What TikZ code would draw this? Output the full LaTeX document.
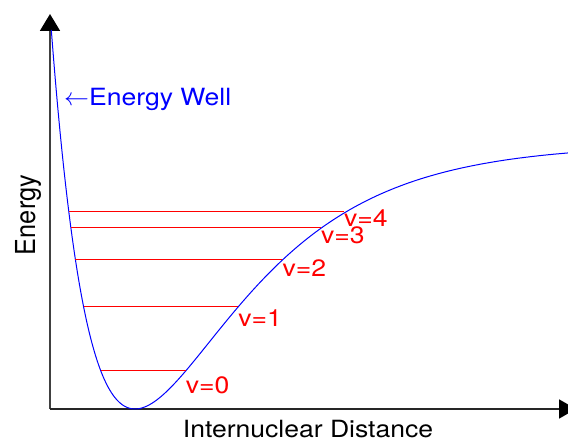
\documentclass[tikz,border=0pt]{standalone}
\usepackage{fontspec}
\setmainfont{TeX Gyre Heros}[FakeStretch=1.12]
\newfontfamily\ylabfont{TeX Gyre Heros}[FakeStretch=0.92]
\usetikzlibrary{arrows.meta}
\begin{document}
\begin{tikzpicture}[x=1pt,y=1pt,
  lbl/.style={inner sep=0pt, font=\fontsize{23.7}{28}\selectfont},
  lvl/.style={red, line width=1pt},
  vlab/.style={lbl, red, anchor=base west},
  axis/.style={line width=1.8pt, black!75},
  curve/.style={blue, line width=1pt}]
\useasboundingbox (0,0) rectangle (568,443);
\def\D{265}\def\a{0.0094}\def\xm{135}
\coordinate (O) at (50,34);
\coordinate (ytip) at (50,429);
\coordinate (xtip) at (576,34);
\draw[axis, -{Triangle[length=17pt,width=20pt,color=black]}] (O) -- (ytip);
\draw[axis, black!85, -{Triangle[length=17pt,width=19pt,color=black]}] (O) -- (xtip);
\draw[curve, domain=-83.7:445, samples=300, smooth, variable=\t]
  plot ({\xm+\t},{34+\D*(1-exp(-\a*\t))*(1-exp(-\a*\t))});
\foreach \h/\k/\b in {38/0/49, 102/1/116, 149/2/166, 181/3/199, 197/4/216} {
  \pgfmathsetmacro\s{sqrt(\h/\D)}
  \pgfmathsetmacro\xl{\xm-ln(1+\s)/\a}
  \pgfmathsetmacro\xr{\xm-ln(1-\s)/\a}
  \coordinate (L\k) at (\xl,34+\h);
  \coordinate (R\k) at (\xr,34+\h);
  \draw[lvl] (L\k) -- (R\k);
  \node[vlab] (v\k) at (\xr,\b) {v=\k};
}
\node[lbl, blue, anchor=base west] (well) at (64,337) {$\leftarrow$Energy Well};
\node[font=\ylabfont\fontsize{27.5}{30}\selectfont, inner sep=0pt, rotate=90, anchor=base] (ylab) at (35,228) {Energy};
\node[lbl, anchor=base] (xlab) at (308,5) {Internuclear Distance};
\end{tikzpicture}
\end{document}
